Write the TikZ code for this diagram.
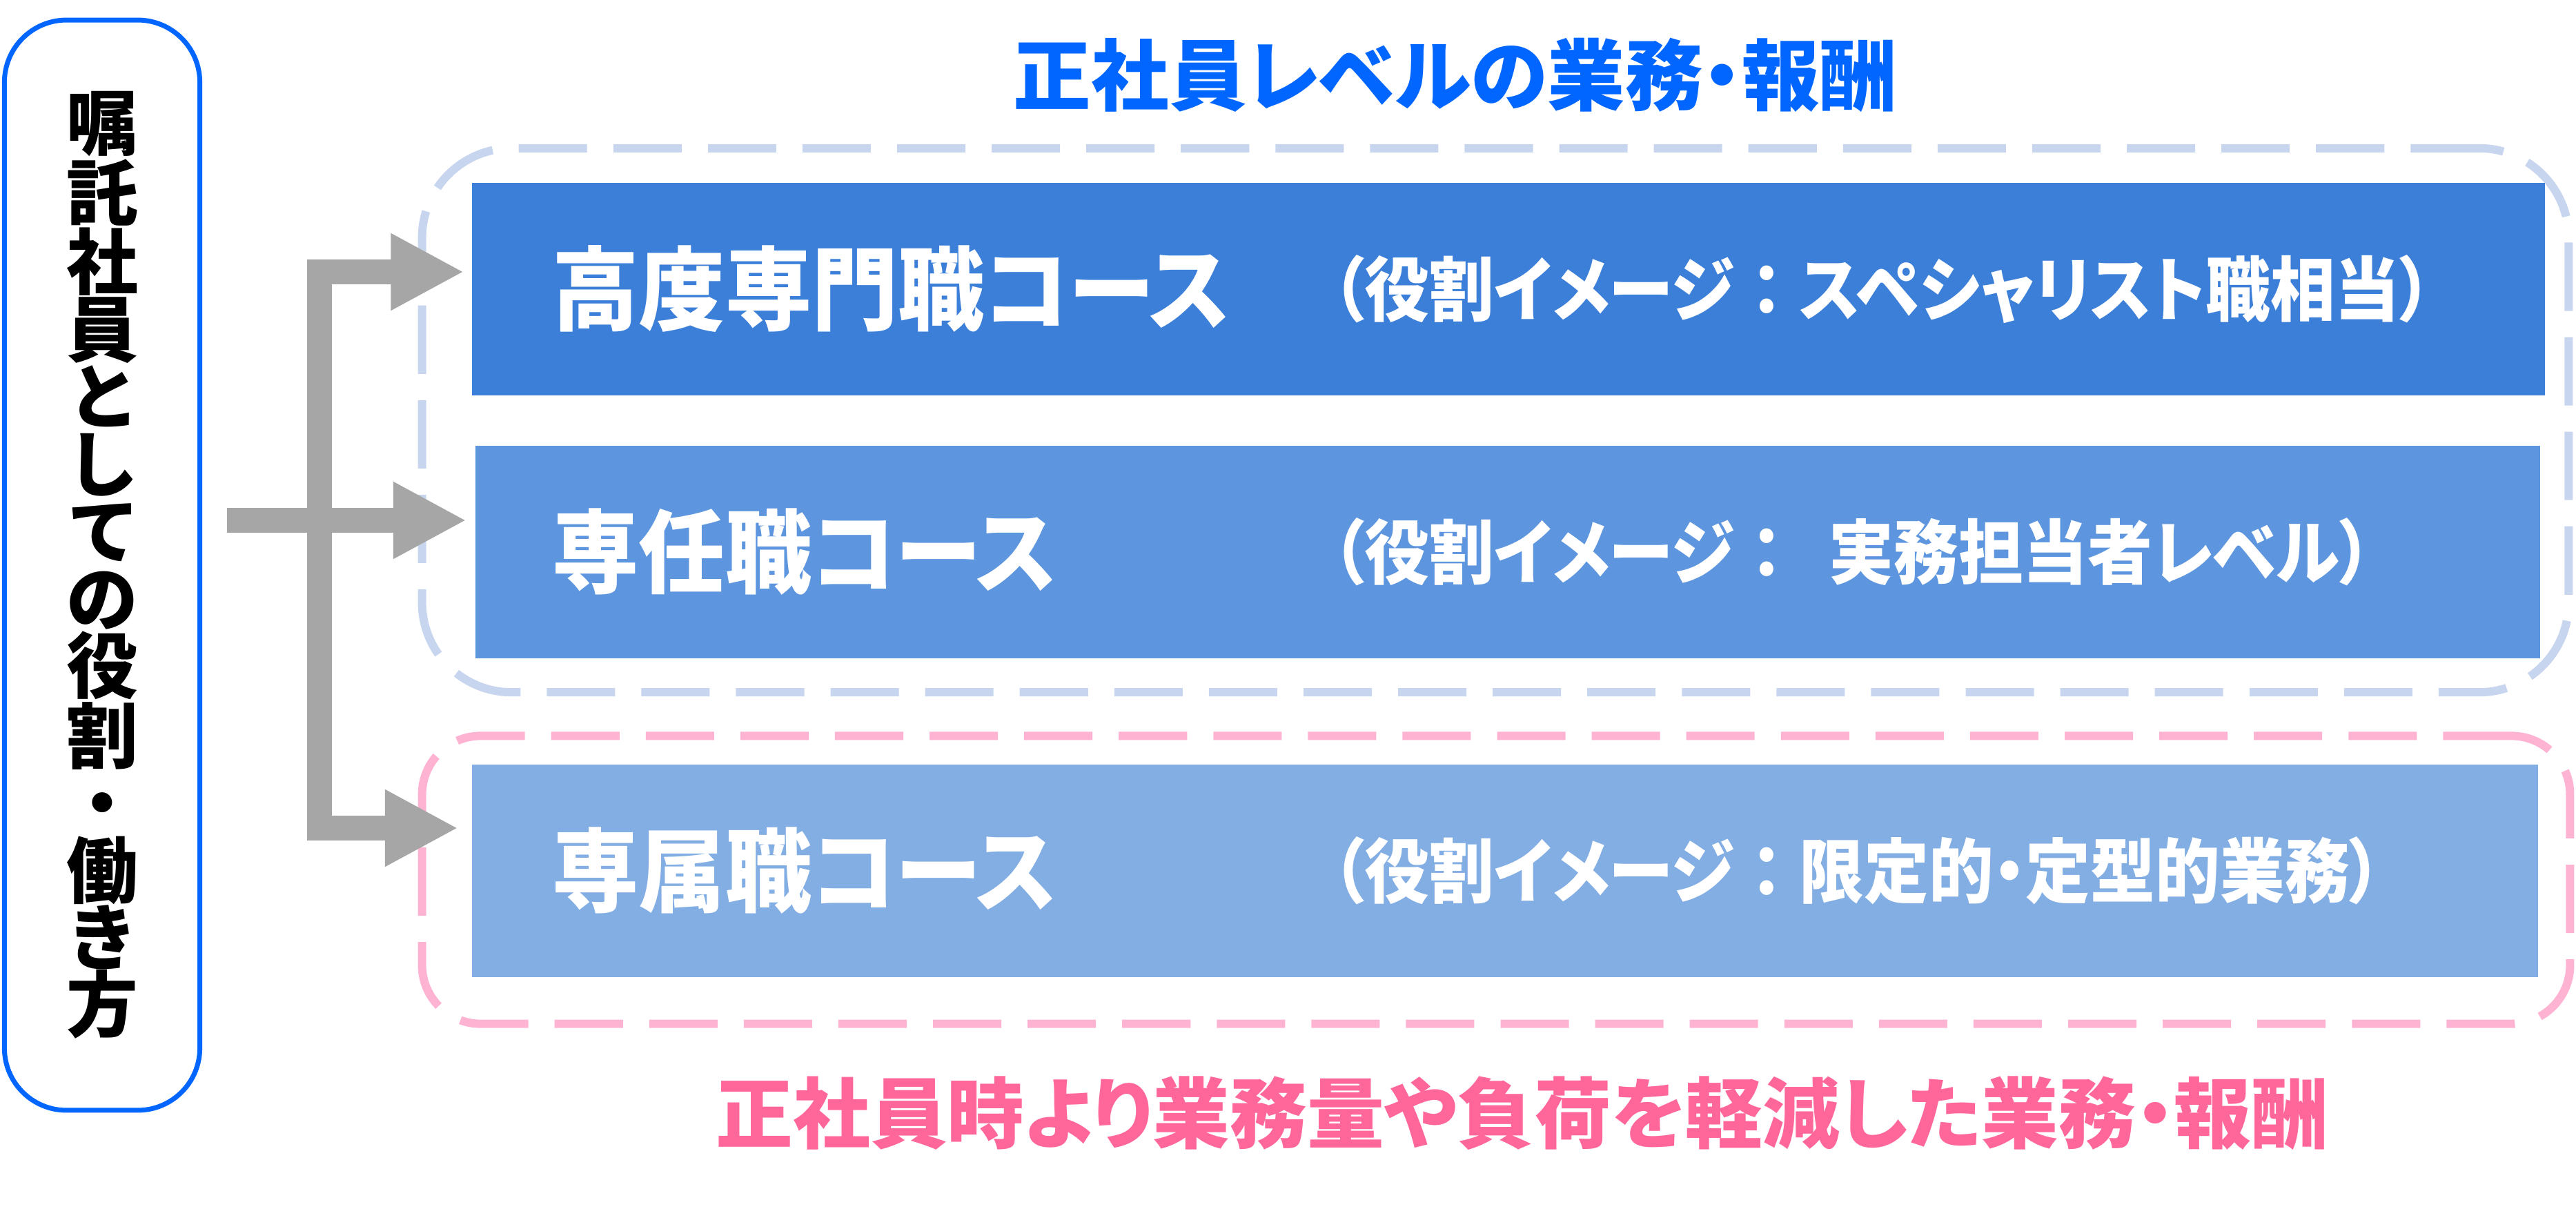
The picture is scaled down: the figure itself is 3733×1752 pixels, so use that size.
\documentclass[tikz,border=0pt]{standalone}
\usepackage{fontspec}
\setmainfont{Noto Sans CJK JP}[RawFeature=+palt]
\newfontfamily\narrowjp{Noto Sans CJK JP}[RawFeature=+palt, FakeStretch=0.92]
\newfontfamily\slimjp{Noto Sans CJK JP}[RawFeature=+palt, FakeStretch=0.95]
\newcommand\fullwd[1]{{\addfontfeature{RawFeature=-palt}#1}}
\usetikzlibrary{arrows.meta}
\definecolor{vivid}{HTML}{0066FF}
\definecolor{rose}{HTML}{FF6699}
\definecolor{bargray}{HTML}{A6A6A6}
\definecolor{deep}{HTML}{3B7FD9}
\definecolor{mid}{HTML}{5D96DE}
\definecolor{pale}{HTML}{82AEE4}
\definecolor{dashblue}{HTML}{C7D5EE}
\definecolor{dashpink}{HTML}{FFB3D3}

\begin{document}
\begin{tikzpicture}[x=0.01cm, y=-0.01cm,
        >={Triangle[length=1.06cm, width=1.04cm]},
        group/.style={line width=0.12cm, dash pattern=on 0.99cm off 0.38cm, inner sep=0pt},
        course/.style={inner sep=0pt, minimum height=3.07cm},
        coursename/.style={anchor=west, inner sep=0pt, text=white, font=\slimjp\bfseries\fontsize{37.5pt}{40pt}\selectfont},
        roletext/.style={anchor=west, inner sep=0pt, text=white, font=\narrowjp\bfseries\fontsize{29pt}{32pt}\selectfont},
        bar/.style={draw=bargray, line width=0.36cm, line join=miter}]
    \useasboundingbox (0,0) rectangle (3733,1752);
    \coordinate (S) at (329,754);
    \coordinate (P) at (463,394);
    \coordinate (Q) at (463,1200);
    \node[draw=vivid, line width=0.07cm, rounded corners=0.9cm, minimum width=2.83cm, minimum height=15.79cm,
        align=center, inner sep=0pt, font=\bfseries\fontsize{29.5pt}{27.7pt}\selectfont] (L) at (148,819)
        {嘱\\託\\社\\員\\と\\し\\て\\の\\役\\割\\・\\働\\き\\方};
    \node[group, draw=dashblue, rounded corners=1.3cm, minimum width=31.09cm, minimum height=7.88cm] (G1) at (2167,609) {};
    \node[group, draw=dashpink, rounded corners=0.85cm, minimum width=31.11cm, minimum height=4.17cm] (G2) at (2168,1275) {};
    \node[course, fill=deep, minimum width=30.02cm] (B1) at (2186,419) {};
    \node[course, fill=mid, minimum width=29.91cm] (B2) at (2185,800) {};
    \node[course, fill=pale, minimum width=29.93cm] (B3) at (2181,1262) {};
    \node[coursename] (N1) at (800,419) {高度専門職コース};
    \node[coursename] (N2) at (800,800) {専任職コース};
    \node[coursename] (N3) at (800,1262) {専属職コース};
    \node[roletext] (R1) at (1930,419) {（役割イメージ\fullwd{：}スペシャリスト職相当）};
    \node[roletext] (R2) at (1930,800) {（役割イメージ\fullwd{：}~~実務担当者レベル）};
    \node[roletext] (R3) at (1930,1262) {（役割イメージ\fullwd{：}限定的・定型的業務）};
    \node[text=vivid, font=\bfseries\fontsize{32pt}{34pt}\selectfont] (T1) at (2109,109) {正社員レベルの業務・報酬};
    \node[text=rose, font=\bfseries\fontsize{31.8pt}{34pt}\selectfont] (T2) at (2206,1613) {正社員時より業務量や負荷を軽減した業務・報酬};
    \draw[bar, <->, shorten <=0.11cm, shorten >=0.19cm] (P -| B1.west) -- (P) -- (Q) -- (Q -| B3.west);
    \draw[bar, ->, shorten >=0.12cm] (S) -- (S -| B2.west);
\end{tikzpicture}
\end{document}
